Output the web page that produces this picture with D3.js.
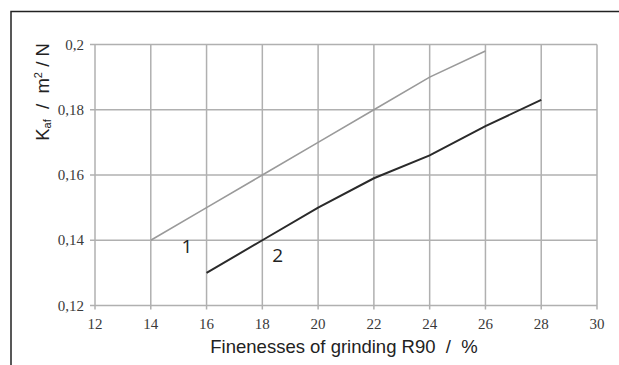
<!DOCTYPE html>
<html><head><meta charset="utf-8">
<script src="https://cdn.jsdelivr.net/npm/d3@7"></script>
<style>body{margin:0;background:#fff}svg{display:block}</style>
</head><body>
<svg id="c" width="619" height="365"></svg>
<script>
const xTicks = [12,14,16,18,20,22,24,26,28,30];
const yTicks = [0.12,0.14,0.16,0.18,0.2];
const yTickLabels = ["0,12","0,14","0,16","0,18","0,2"];
const series1X = [14,16,18,20,22,24,26];
const series1Y = [0.14,0.15,0.16,0.17,0.18,0.19,0.198];
const series2X = [16,18,20,22,24,26,28];
const series2Y = [0.13,0.14,0.15,0.159,0.166,0.175,0.183];
const seriesLabels = ["1","2"];

const svg = d3.select("#c");
const x = d3.scaleLinear().domain([12,30]).range([95,597]);
const y = d3.scaleLinear().domain([0.12,0.2]).range([305.5,44.5]);

// frame
svg.append("path").attr("d","M11,365V11.5H619").attr("fill","none").attr("stroke","#222").attr("stroke-width",1.5);

// grid
svg.append("g").selectAll("line").data(xTicks).join("line")
  .attr("x1",d=>x(d)).attr("x2",d=>x(d)).attr("y1",y(0.2)).attr("y2",y(0.12)+4)
  .attr("stroke","#b0b0b0").attr("stroke-width",1.5);
svg.append("g").selectAll("line").data(yTicks).join("line")
  .attr("x1",x(12)-5).attr("x2",x(30)).attr("y1",d=>y(d)).attr("y2",d=>y(d))
  .attr("stroke","#b0b0b0").attr("stroke-width",1.5);

// tick labels
svg.append("g").selectAll("text").data(xTicks).join("text")
  .attr("x",d=>x(d)).attr("y",329).attr("text-anchor","middle")
  .attr("font-family","Liberation Serif").attr("font-size",15).attr("fill","#3a3a3a").text(d=>d);
svg.append("g").selectAll("text").data(yTicks).join("text")
  .attr("x",84).attr("y",d=>y(d)+5).attr("text-anchor","end")
  .attr("font-family","Liberation Serif").attr("font-size",15).attr("fill","#3a3a3a").text((d,i)=>yTickLabels[i]);

// lines
const line = d3.line().x(d=>x(d[0])).y(d=>y(d[1]));
svg.append("path").datum(series1X.map((v,i)=>[v,series1Y[i]])).attr("d",line)
  .attr("fill","none").attr("stroke","#9a9a9a").attr("stroke-width",1.6);
svg.append("path").datum(series2X.map((v,i)=>[v,series2Y[i]])).attr("d",line)
  .attr("fill","none").attr("stroke","#2a2a2a").attr("stroke-width",2);

// series labels
svg.append("text").attr("x",x(15.3)).attr("y",y(0.1362)).attr("font-family","Open Sans").attr("font-size",19).attr("fill","#222").attr("text-anchor","middle").text(seriesLabels[0]);
svg.append("text").attr("x",x(18.55)).attr("y",y(0.1332)).attr("font-family","Open Sans").attr("font-size",19).attr("fill","#222").attr("text-anchor","middle").text(seriesLabels[1]);

// axis titles
svg.append("text").attr("x",344).attr("y",353).attr("text-anchor","middle")
  .attr("font-family","Liberation Sans").attr("font-size",18.5).attr("fill","#222")
  .attr("xml:space","preserve").text("Finenesses of grinding R90  /  %");
const yt = svg.append("text").attr("transform","translate(49,92) rotate(-90)").attr("text-anchor","middle")
  .attr("font-family","Liberation Sans").attr("font-size",18.5).attr("fill","#222").attr("xml:space","preserve");
yt.append("tspan").text("K");
yt.append("tspan").attr("font-size",11).attr("dy",2).text("af");
yt.append("tspan").attr("dy",-2).text("  /  m");
yt.append("tspan").attr("font-size",11).attr("dy",-7).text("2");
yt.append("tspan").attr("dy",7).text(" / N");
</script>
</body></html>
